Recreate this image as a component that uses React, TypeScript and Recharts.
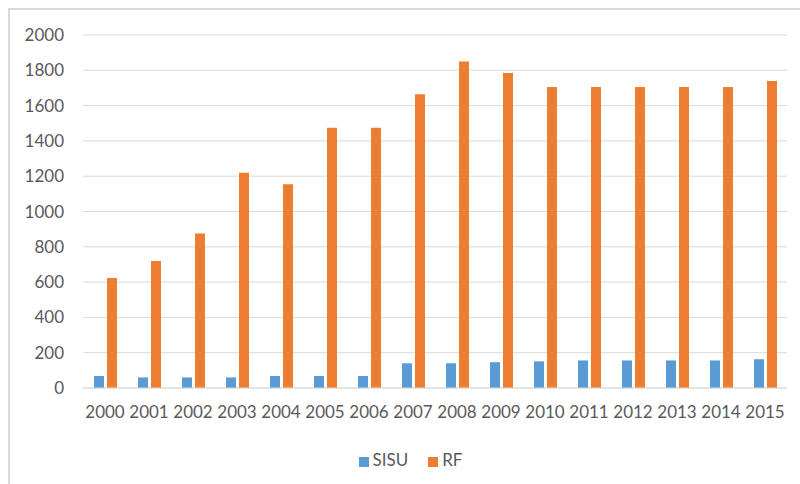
import { Bar, BarChart, CartesianGrid, Legend, XAxis, YAxis } from "recharts";

const years = ["2000", "2001", "2002", "2003", "2004", "2005", "2006", "2007", "2008", "2009", "2010", "2011", "2012", "2013", "2014", "2015"];
const sisu = [68, 60, 60, 60, 68, 68, 68, 140, 140, 146, 151, 156, 156, 156, 156, 163];
const rf = [623, 720, 875, 1220, 1155, 1475, 1475, 1665, 1850, 1785, 1705, 1705, 1705, 1705, 1705, 1740];
const yTicks = [0, 200, 400, 600, 800, 1000, 1200, 1400, 1600, 1800, 2000];
const seriesOrder = ["SISU", "RF"];

const data = years.map((year, i) => ({ year, SISU: sisu[i], RF: rf[i] }));

const grey = "#595959";
const font = "Lato, 'Open Sans', sans-serif";

export default function App() {
  return (
    <div style={{ position: "fixed", left: 0, top: 0, width: 800, height: 484, background: "#fff", overflow: "hidden", fontFamily: font }}>
      <div
        style={{
          position: "absolute",
          left: 8,
          top: 8,
          width: 820,
          height: 500,
          borderLeft: "2px solid #d9d9d9",
          borderTop: "2px solid #d9d9d9",
        }}
      />
      <div style={{ position: "absolute", left: 0, top: 0 }}>
        <BarChart
          width={800}
          height={484}
          data={data}
          margin={{ top: 35, right: 13, left: 0, bottom: 35 }}
          barGap={3}
          barSize={10}
        >
          <CartesianGrid vertical={false} stroke="#d9d9d9" />
          <XAxis
            dataKey="year"
            height={40}
            tickLine={false}
            axisLine={{ stroke: "#d9d9d9" }}
            tick={{ fontSize: 17, fill: grey, fontFamily: font }}
            tickMargin={12}
            interval={0}
          />
          <YAxis
            width={83}
            domain={[0, 2000]}
            ticks={yTicks}
            tickLine={false}
            axisLine={false}
            tickSize={0}
            tickMargin={19}
            tick={{ fontSize: 17, fill: grey, fontFamily: font }}
          />
          <Legend
            verticalAlign="bottom"
            iconType="square"
            iconSize={10}
            height={21}
            itemSorter={(item: any) => seriesOrder.indexOf(item.value)}
            wrapperStyle={{ bottom: 14, left: 22, fontSize: 17, fontFamily: font }}
            formatter={(v) => (
              <span style={{ color: grey, marginRight: v === "SISU" ? 10 : 0 }}>{v}</span>
            )}
          />
          <Bar dataKey="SISU" fill="#5B9BD5" isAnimationActive={false} />
          <Bar dataKey="RF" fill="#ED7D31" isAnimationActive={false} />
        </BarChart>
      </div>
    </div>
  );
}
